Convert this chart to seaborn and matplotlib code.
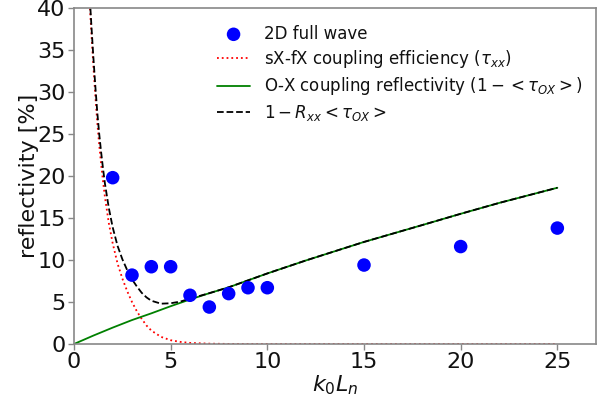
import matplotlib
matplotlib.use("Agg")
import matplotlib.pyplot as plt
import seaborn as sns
import pandas as pd

# 2D full-wave simulation points
k0Ln_pts = [2, 3, 4, 5, 6, 7, 8, 9, 10, 15, 20, 25]
refl_pts = [19.8, 8.2, 9.2, 9.2, 5.8, 4.4, 6.0, 6.7, 6.7, 9.4, 11.6, 13.8]

# curves
k0Ln_curve = [0.7, 0.8, 0.9, 1.0, 1.1, 1.2, 1.3, 1.4, 1.5, 1.6, 1.8, 2.0, 2.25, 2.5,
              2.75, 3.0, 3.25, 3.5, 3.75, 4.0, 4.5, 5.0, 5.5, 6.0, 7.0, 8.0, 10.0,
              12.0, 15.0, 18.0, 20.0, 22.0, 25.0]
tau_xx = [46.0, 41.0, 37.0, 33.2, 29.7, 26.5, 23.8, 21.5, 19.4, 17.5, 14.4, 12.0, 9.6, 7.8,
          6.3, 5.0, 3.9, 3.0, 2.2, 1.6, 0.85, 0.45, 0.25, 0.13, 0.04, 0.01, 0.0,
          0.0, 0.0, 0.0, 0.0, 0.0, 0.0]
total = [46.8, 41.9, 37.9, 34.2, 30.8, 27.7, 25.1, 22.9, 20.9, 19.1, 16.2, 13.9, 11.7, 10.1,
         8.8, 7.7, 6.85, 6.1, 5.55, 5.15, 4.8, 4.85, 5.05, 5.4, 6.05, 6.75, 8.4,
         9.95, 12.15, 14.15, 15.5, 16.8, 18.6]
k0Ln_ox = [0, 1, 2, 3, 4, 5, 6, 7, 8, 10, 12, 15, 18, 20, 22, 25]
ox_refl = [0.0, 1.0, 1.95, 2.85, 3.65, 4.5, 5.3, 6.05, 6.75, 8.4, 9.95, 12.15, 14.15, 15.5, 16.8, 18.6]

sns.set_theme(style="ticks")
plt.rcParams['font.family'] = ['DejaVu Sans']
plt.rcParams['mathtext.fontset'] = 'dejavusans'

fig = plt.figure(figsize=(6.08, 4.03), dpi=100)
ax = fig.add_axes([74/608, 1-344/403, (596-74)/608, (344-8)/403])

df_pts = pd.DataFrame({"x": k0Ln_pts, "y": refl_pts})
df_c = pd.DataFrame({"x": k0Ln_curve, "tau": tau_xx, "tot": total})
df_ox = pd.DataFrame({"x": k0Ln_ox, "y": ox_refl})

sns.scatterplot(data=df_pts, x="x", y="y", ax=ax, color="blue", s=95,
                edgecolor="none", label="2D full wave", zorder=3)
sns.lineplot(data=df_c, x="x", y="tau", ax=ax, color="red", linestyle=":",
             linewidth=1.3, label=r"sX-fX coupling efficiency ($\tau_{xx}$)")
sns.lineplot(data=df_ox, x="x", y="y", ax=ax, color="green", linewidth=1.3,
             label=r"O-X coupling reflectivity ($1-<\tau_{OX}>$)")
sns.lineplot(data=df_c, x="x", y="tot", ax=ax, color="black", linestyle="--",
             linewidth=1.3, label=r"$1-R_{xx}<\tau_{OX}>$")

ax.set_xlim(0, 27)
ax.set_ylim(0, 40)
ax.set_xticks([0, 5, 10, 15, 20, 25])
ax.set_yticks([0, 5, 10, 15, 20, 25, 30, 35, 40])
ax.tick_params(labelsize=16, color="#888888", length=4, width=1, labelcolor="#111111", pad=2)
for s in ax.spines.values():
    s.set_color("#888888")
    s.set_linewidth(1.2)
ax.set_xlabel(r"$k_0L_n$", fontsize=16, labelpad=1, color="#111111")
ax.set_ylabel("reflectivity [%]", fontsize=16, labelpad=-1, color="#111111")

leg = ax.legend(loc="upper left", bbox_to_anchor=(0.245, 0.995), frameon=False,
                fontsize=12, labelspacing=0.32)
for t in leg.get_texts():
    t.set_color("#111111")

fig.savefig("out.png", dpi=100)
